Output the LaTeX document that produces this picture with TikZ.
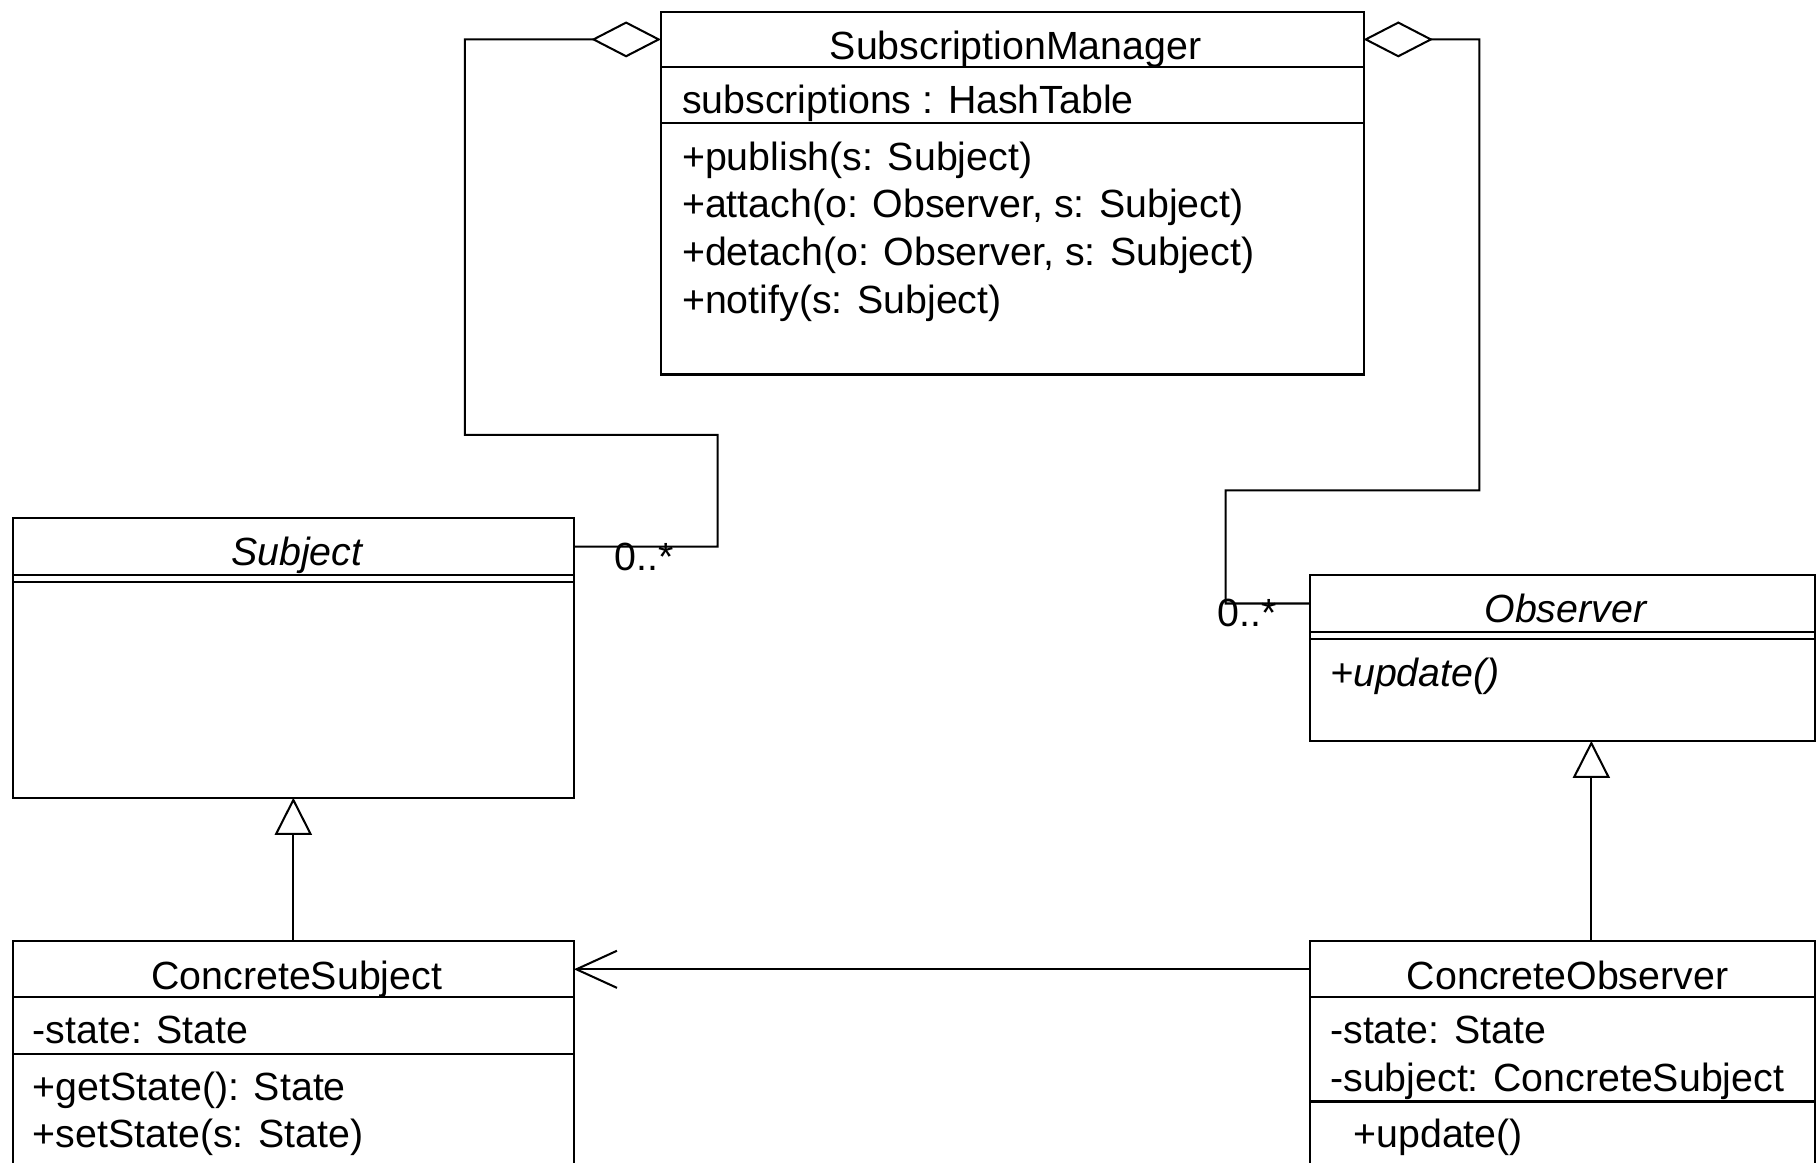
\documentclass[tikz,border=0pt]{standalone}
\usepackage{fontspec}
\setmainfont{Liberation Sans}
\usetikzlibrary{arrows.meta, positioning}

\newcommand{\umlfont}{\fontsize{19.3}{23}\selectfont}

\tikzset{
  compartment/.style={draw, line width=1pt, anchor=north west, inner sep=0pt, outer sep=0pt},
  classname/.style={anchor=base, inner sep=0pt, font=\umlfont},
  member/.style={anchor=base west, inner sep=0pt, font=\umlfont},
  mult/.style={anchor=base west, inner sep=0pt, font=\umlfont},
  aggregation/.style={line width=1pt, -{Diamond[open, length=12mm, width=6.2mm]}},
  generalization/.style={line width=1pt, -{Triangle[open, length=6.4mm, width=6.4mm]}},
  association/.style={line width=1pt, -{Straight Barb[length=7mm, width=6.4mm]}}
}

\begin{document}
\begin{tikzpicture}[x=0.2mm, y=-0.2mm]
    \clip (0,0) rectangle (1568,1003);

    % SubscriptionManager
    \node[compartment, minimum width=121.2mm, minimum height=9.6mm] (smHead) at (570,10) {};
    \node[compartment, minimum width=121.2mm, minimum height=9.6mm, below=0pt of smHead] (smAttr) {};
    \node[compartment, minimum width=121.2mm, minimum height=43.4mm, below=0pt of smAttr] (smOps) {};
    \node[classname] (smName) at (876,51) {SubscriptionManager};
    \node[member] (smSubs) at (588,98) {subscriptions : HashTable};
    \node[member] (smPublish) at (588,147) {+publish(s: Subject)};
    \node[member] (smAttach) at (588,188) {+attach(o: Observer, s: Subject)};
    \node[member] (smDetach) at (588,229) {+detach(o: Observer, s: Subject)};
    \node[member] (smNotify) at (588,270) {+notify(s: Subject)};

    % Subject
    \node[compartment, minimum width=96.8mm, minimum height=9.8mm] (subjHead) at (11,447) {};
    \node[compartment, minimum width=96.8mm, minimum height=1.2mm, below=0pt of subjHead] (subjAttr) {};
    \node[compartment, minimum width=96.8mm, minimum height=37.2mm, below=0pt of subjAttr] (subjOps) {};
    \node[classname, font=\umlfont\itshape] (subjName) at (256,488) {Subject};

    % Observer
    \node[compartment, minimum width=87mm, minimum height=9.8mm] (obsHead) at (1130,496) {};
    \node[compartment, minimum width=87mm, minimum height=1.2mm, below=0pt of obsHead] (obsAttr) {};
    \node[compartment, minimum width=87mm, minimum height=17.6mm, below=0pt of obsAttr] (obsOps) {};
    \node[classname, font=\umlfont\itshape] (obsName) at (1350,537) {Observer};
    \node[member, font=\umlfont\itshape] (obsUpdate) at (1147,592) {+update()};

    % ConcreteSubject
    \node[compartment, minimum width=96.8mm, minimum height=9.6mm] (csHead) at (11,812) {};
    \node[compartment, minimum width=96.8mm, minimum height=9.8mm, below=0pt of csHead] (csAttr) {};
    \node[compartment, minimum width=96.8mm, minimum height=24.2mm, below=0pt of csAttr] (csOps) {};
    \node[classname] (csName) at (256,853) {ConcreteSubject};
    \node[member] (csState) at (28,900) {-state: State};
    \node[member] (csGet) at (28,949) {+getState(): State};
    \node[member] (csSet) at (28,990) {+setState(s: State)};

    % ConcreteObserver
    \node[compartment, minimum width=87mm, minimum height=9.6mm] (coHead) at (1130,812) {};
    \node[compartment, minimum width=87mm, minimum height=18mm, below=0pt of coHead] (coAttr) {};
    \node[compartment, minimum width=87mm, minimum height=16mm, below=0pt of coAttr] (coOps) {};
    \node[classname] (coName) at (1352,853) {ConcreteObserver};
    \node[member] (coState) at (1147,900) {-state: State};
    \node[member] (coSubject) at (1147,941) {-subject: ConcreteSubject};
    \node[member] (coUpdate) at (1167,990) {+update()};

    % Aggregations
    \draw[aggregation] (subjHead.east) -| (619,375) -| (401,34) -- (smHead.west);
    \draw[aggregation] (obsHead.west) -| (1057,423) -| (1276,34) -- (smHead.east);
    \node[mult] (subjMult) at (530,492) {0..*};
    \node[mult] (obsMult) at (1050,540.5) {0..*};

    % Generalizations
    \draw[generalization] (csHead.north) -- (subjOps.south);
    \draw[generalization] ([xshift=5mm]coHead.north) -- ([xshift=5mm]obsOps.south);

    % Association
    \draw[association] (coHead.west) -- (csHead.east);

\end{tikzpicture}
\end{document}
